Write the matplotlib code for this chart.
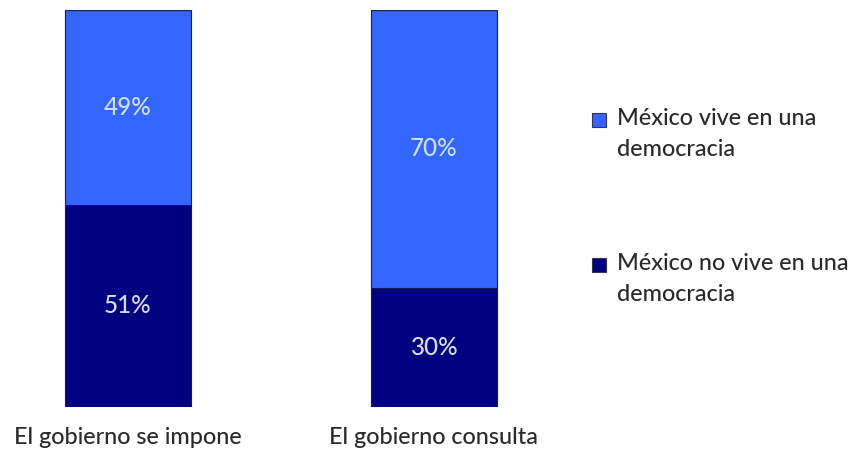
import matplotlib
matplotlib.use("Agg")
import matplotlib.pyplot as plt
from matplotlib.patches import Rectangle

categories = ["El gobierno se impone", "El gobierno consulta"]
series_names = ["México no vive en una\ndemocracia", "México vive en una\ndemocracia"]
no_vive = [51, 30]
vive = [49, 70]

dark = "#000080"
light = "#3366ff"
plt.rcParams['font.family'] = ['Lato', 'DejaVu Sans']

W, H = 853, 466
fig = plt.figure(figsize=(W/100, H/100), dpi=100)
fig.patch.set_facecolor("white")

ax_l, ax_r = 20, 560
bot_px, top_px = 407, 10
ax = fig.add_axes([ax_l/W, (H-bot_px)/H, (ax_r-ax_l)/W, (bot_px-top_px)/H])
c0, step = 128, 306
ax.set_xlim((ax_l-c0)/step, (ax_r-c0)/step)
ax.set_ylim(0, 100)
ax.axis("off")

x = list(range(len(categories)))
width = 126/step
ax.bar(x, no_vive, width=width, color=dark, edgecolor="#1a1a50", linewidth=0.8)
ax.bar(x, vive, width=width, bottom=no_vive, color=light, edgecolor="#1a1a50", linewidth=0.8)

fs = 16.8
for i in x:
    ax.text(i, no_vive[i]/2, f"{no_vive[i]}%", ha="center", va="center",
            color="#d8dcf0", fontsize=17.5, fontweight="medium")
    ax.text(i, no_vive[i] + vive[i]/2, f"{vive[i]}%", ha="center", va="center",
            color="#cfe0ff", fontsize=17.5, fontweight="medium")
    ax.text(i, -7.6, categories[i], ha="center", va="center", color="#2a2a2a",
            fontsize=fs, fontweight="medium")

# legend
legend_items = [(light, series_names[1], 120), (dark, series_names[0], 265)]
for col, lab, ypx in legend_items:
    fig.patches.append(Rectangle((592/W, (H-ypx-7)/H), 14/W, 14/H, transform=fig.transFigure,
                                 facecolor=col, edgecolor="#333355", linewidth=0.8))
    fig.text(617/W, (H-ypx+12)/H, lab, ha="left", va="top", color="#2a2a2a",
             fontsize=fs, fontweight="medium", linespacing=1.6)

fig.savefig("out.png", dpi=100)
